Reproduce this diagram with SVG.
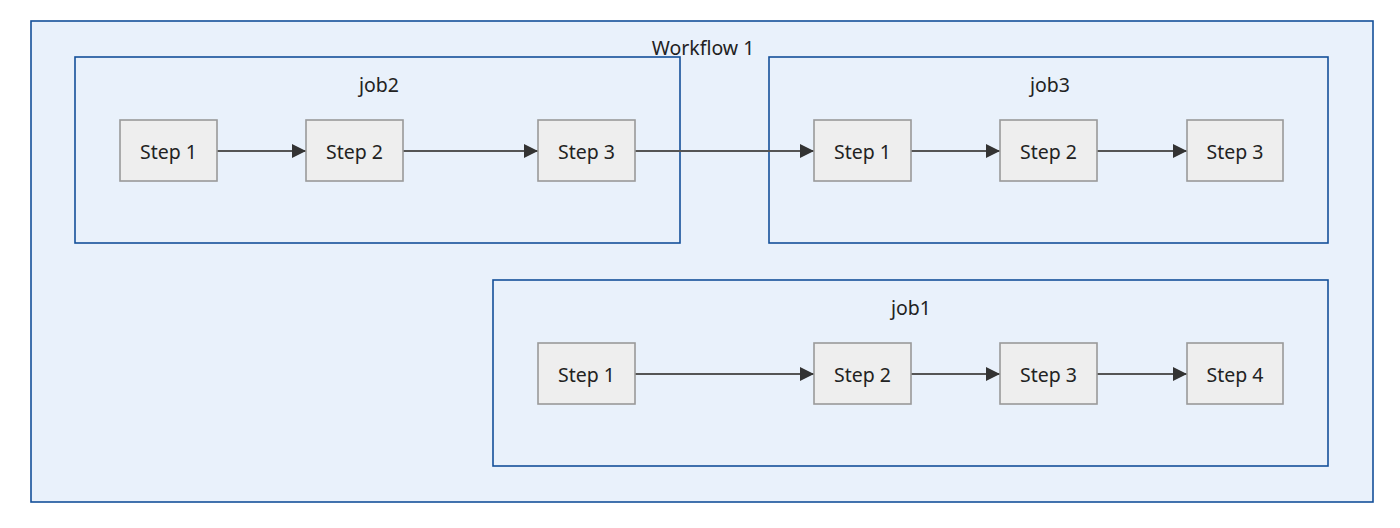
<svg xmlns="http://www.w3.org/2000/svg" width="1400" height="528" viewBox="0 0 1400 528">
<style>
.cluster{fill:#e9f1fb;stroke:#14509a;stroke-width:1.6}
.node rect{fill:#eeeeee;stroke:#999999;stroke-width:1.6}
text{font-family:"Noto Sans","Open Sans",sans-serif;font-size:19.5px;fill:#222;text-anchor:middle;dominant-baseline:central}
.edge{stroke:#555;stroke-width:2.2;fill:none;marker-end:url(#arr)}
</style>
<defs>
<marker id="arr" viewBox="0 0 14 14" refX="14" refY="7" markerWidth="14" markerHeight="14" markerUnits="userSpaceOnUse" orient="auto">
<path d="M0,0 L14,7 L0,14 z" fill="#333"/>
</marker>
</defs>
<rect width="1400" height="528" fill="#ffffff"/>
<g id="workflow1">
<rect class="cluster" x="31" y="21" width="1342" height="481"/>
<text x="703" y="47">Workflow 1</text>
</g>
<g id="job2">
<rect class="cluster" x="75" y="57" width="605" height="186"/>
<text x="379" y="84">job2</text>
</g>
<g id="job3">
<rect class="cluster" x="769" y="57" width="559" height="186"/>
<text x="1050" y="84">job3</text>
</g>
<g id="job1">
<rect class="cluster" x="493" y="280" width="835" height="186"/>
<text x="911" y="307">job1</text>
</g>
<g id="connectors">
<path class="edge" d="M217,151 H306"/>
<path class="edge" d="M403,151 H538"/>
<path class="edge" d="M635,151 H814"/>
<path class="edge" d="M911,151 H1000"/>
<path class="edge" d="M1097,151 H1187"/>
<path class="edge" d="M635,374 H814"/>
<path class="edge" d="M911,374 H1000"/>
<path class="edge" d="M1097,374 H1187"/>
</g>
<g id="job2-step1" class="node"><rect x="120" y="120" width="97" height="61"/><text x="168.5" y="151">Step 1</text></g>
<g id="job2-step2" class="node"><rect x="306" y="120" width="97" height="61"/><text x="354.5" y="151">Step 2</text></g>
<g id="job2-step3" class="node"><rect x="538" y="120" width="97" height="61"/><text x="586.5" y="151">Step 3</text></g>
<g id="job3-step1" class="node"><rect x="814" y="120" width="97" height="61"/><text x="862.5" y="151">Step 1</text></g>
<g id="job3-step2" class="node"><rect x="1000" y="120" width="97" height="61"/><text x="1048.5" y="151">Step 2</text></g>
<g id="job3-step3" class="node"><rect x="1187" y="120" width="96" height="61"/><text x="1235" y="151">Step 3</text></g>
<g id="job1-step1" class="node"><rect x="538" y="343" width="97" height="61"/><text x="586.5" y="374">Step 1</text></g>
<g id="job1-step2" class="node"><rect x="814" y="343" width="97" height="61"/><text x="862.5" y="374">Step 2</text></g>
<g id="job1-step3" class="node"><rect x="1000" y="343" width="97" height="61"/><text x="1048.5" y="374">Step 3</text></g>
<g id="job1-step4" class="node"><rect x="1187" y="343" width="96" height="61"/><text x="1235" y="374">Step 4</text></g>
</svg>
